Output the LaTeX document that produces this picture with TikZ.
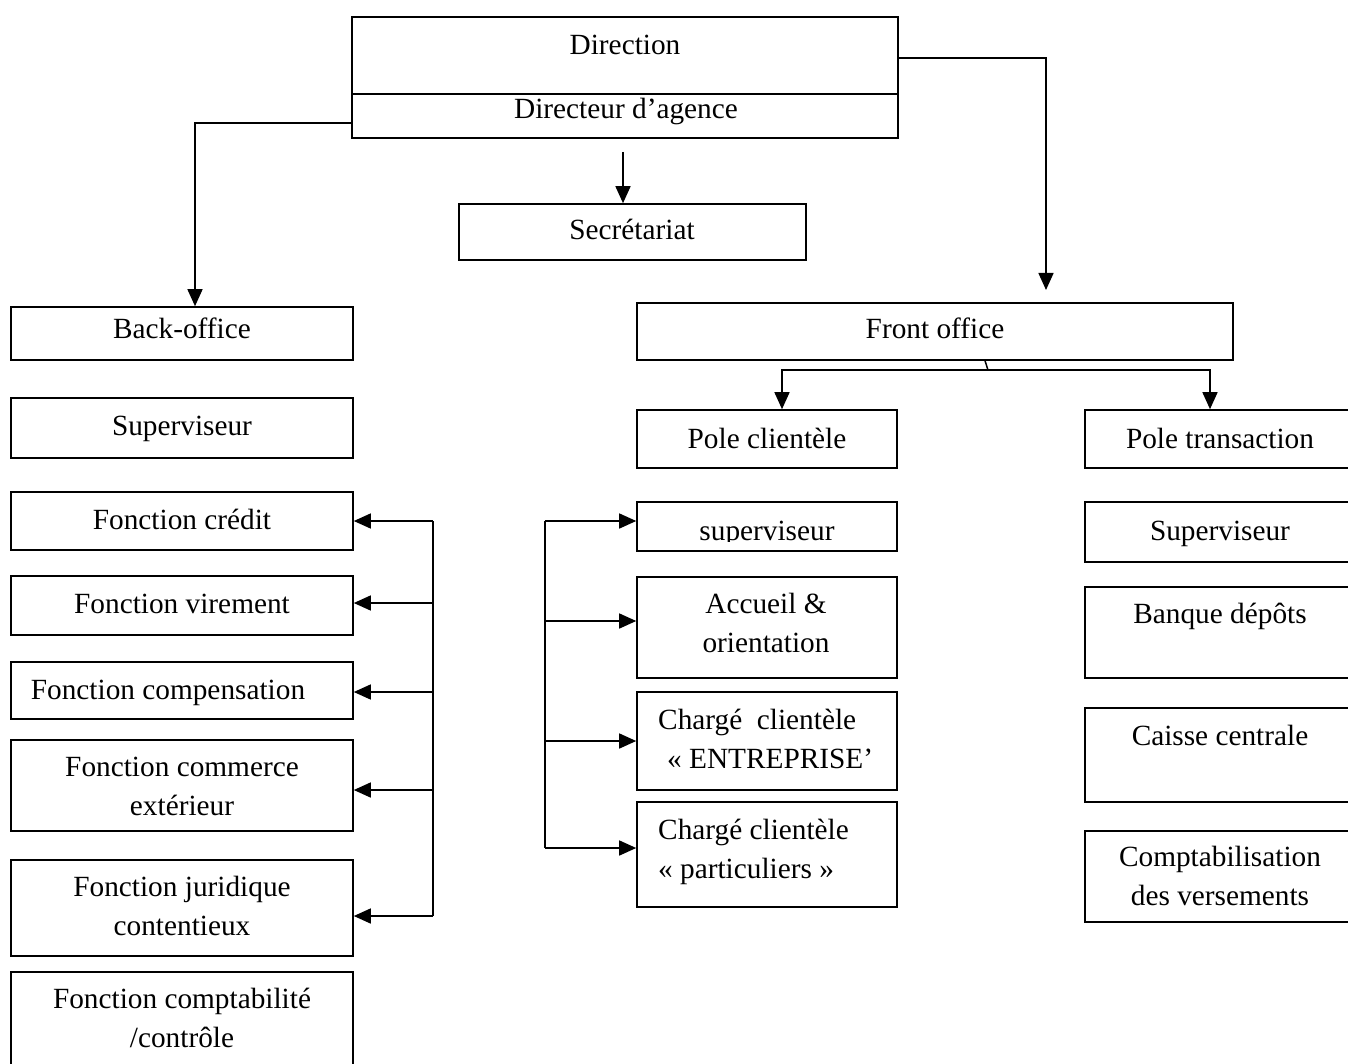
\documentclass[tikz,border=0pt]{standalone}
\usepackage{fontspec}
\setmainfont{Liberation Serif}
\usetikzlibrary{arrows.meta}
\tikzset{
  box/.style={draw, line width=1.6pt, inner sep=0pt, rectangle},
  txt/.style={font=\fontsize{29.3}{39}\selectfont, inner sep=0pt, anchor=base},
  conn/.style={line width=1.5pt},
  arr/.style={line width=1.5pt, -{Triangle[length=17pt,width=15pt]}},
}
\begin{document}
\begin{tikzpicture}[x=1pt,y=-1pt]
\clip (0,0) rectangle (1348,1064);
\fill[white] (0,0) rectangle (1348,1064);

% ---- top
\node[box, minimum width=546pt, minimum height=121pt] (dir) at (625,77.5) {};
\draw[line width=1.6pt] (dir.west |- 0,94) -- (dir.east |- 0,94);
\node[txt] (tdir1) at (625,55) {Direction};
\node[txt] (tdir2) at (626,119) {Directeur d’agence};

\node[box, minimum width=347pt, minimum height=56pt] (sec) at (632.5,232) {};
\node[txt] (tsec) at (632,240) {Secrétariat};

% ---- level 2
\node[box, minimum width=342pt, minimum height=53pt] (bo) at (182,333.5) {};
\node[txt] (tbo) at (182,338) {Back-office};
\node[box, minimum width=596pt, minimum height=57pt] (fo) at (935,331.5) {};
\node[txt] (tfo) at (935,338) {Front office};

% ---- back office column (multi-line text: anchor base = last line)
\node[box, minimum width=342pt, minimum height=60pt] (bsup) at (182,428) {};
\node[txt] (tbsup) at (182,435) {Superviseur};
\node[box, minimum width=342pt, minimum height=58pt] (fc) at (182,521) {};
\node[txt] (tfc) at (182,529) {Fonction crédit};
\node[box, minimum width=342pt, minimum height=59pt] (fv) at (182,605.5) {};
\node[txt] (tfv) at (182,613) {Fonction virement};
\node[box, minimum width=342pt, minimum height=57pt] (fcomp) at (182,690.5) {};
\node[txt] (tfcomp) at (168,699) {Fonction compensation};
\node[box, minimum width=342pt, minimum height=91pt] (fce) at (182,785.5) {};
\node[txt, align=center] (tfce) at (182,815) {Fonction commerce\\extérieur};
\node[box, minimum width=342pt, minimum height=96pt] (fj) at (182,908) {};
\node[txt, align=center] (tfj) at (182,935) {Fonction juridique\\contentieux};
\node[box, minimum width=342pt, minimum height=108pt] (fcc) at (182,1026) {};
\node[txt, align=center] (tfcc) at (182,1047) {Fonction comptabilité\\/contrôle};

% ---- pole clientele column
\node[box, minimum width=260pt, minimum height=58pt] (pc) at (767,439) {};
\node[txt] (tpc) at (767,448) {Pole clientèle};
\node[box, minimum width=260pt, minimum height=49pt] (ms) at (767,526.5) {};
\begin{scope}
  \clip (ms.north west) rectangle ([yshift=10pt]ms.south east);
  \node[txt] (tms) at (767,540) {superviseur};
\end{scope}
\node[box, minimum width=260pt, minimum height=101pt] (acc) at (767,627.5) {};
\node[txt, align=center] (tacc) at (766,652) {Accueil \&\\orientation};
\node[box, minimum width=260pt, minimum height=98pt] (cce) at (767,741) {};
\node[txt, align=left, anchor=base west] (tcce) at (658,768) {Chargé\ \ clientèle\\\hspace*{9pt}« ENTREPRISE’};
\node[box, minimum width=260pt, minimum height=105pt] (ccp) at (767,854.5) {};
\node[txt, align=left, anchor=base west] (tccp) at (658,878) {Chargé clientèle\\« particuliers »};

% ---- pole transaction column
\node[box, minimum width=275pt, minimum height=58pt] (pt) at (1222.5,439) {};
\node[txt] (tpt) at (1220,448) {Pole transaction};
\node[box, minimum width=275pt, minimum height=60pt] (rs) at (1222.5,532) {};
\node[txt] (trs) at (1220,540) {Superviseur};
\node[box, minimum width=275pt, minimum height=91pt] (bd) at (1222.5,632.5) {};
\node[txt] (tbd) at (1220,623) {Banque dépôts};
\node[box, minimum width=275pt, minimum height=94pt] (cc) at (1222.5,755) {};
\node[txt] (tcc) at (1220,745) {Caisse centrale};
\node[box, minimum width=275pt, minimum height=91pt] (cv) at (1222.5,876.5) {};
\node[txt, align=center] (tcv) at (1220,905) {Comptabilisation\\des versements};

% ---- connectors from direction
\draw[arr] ([yshift=-45.5pt]dir.west) -| ([xshift=13pt]bo.north);
\coordinate (fotip) at (1046,290);
\draw[arr] ([yshift=19.5pt]dir.east) -| (fotip);
\coordinate (secstart) at (623,152);
\draw[arr] (secstart) -- (secstart |- sec.north);

% ---- front office to poles
\coordinate (fork) at (988,370);
\draw[conn] ([xshift=50pt]fo.south) -- (fork);
\draw[arr] (fork) -| ([xshift=15pt]pc.north);
\draw[arr] (fork) -| ([xshift=-12.5pt]pt.north);

% ---- pole clientele bracket
\coordinate (m1) at (545,521);
\coordinate (m2) at (545,621);
\coordinate (m3) at (545,741);
\coordinate (m4) at (545,848);
\draw[conn] (m1) -- (m4);
\draw[arr] (m1) -- (m1 -| ms.west);
\draw[arr] (m2) -- (m2 -| acc.west);
\draw[arr] (m3) -- (m3 -| cce.west);
\draw[arr] (m4) -- (m4 -| ccp.west);

% ---- back office bracket
\coordinate (l1) at (433,521);
\coordinate (l2) at (433,603);
\coordinate (l3) at (433,692);
\coordinate (l4) at (433,790);
\coordinate (l5) at (433,916);
\draw[conn] (l1) -- (l5);
\draw[arr] (l1) -- (l1 -| fc.east);
\draw[arr] (l2) -- (l2 -| fv.east);
\draw[arr] (l3) -- (l3 -| fcomp.east);
\draw[arr] (l4) -- (l4 -| fce.east);
\draw[arr] (l5) -- (l5 -| fj.east);
\end{tikzpicture}
\end{document}
